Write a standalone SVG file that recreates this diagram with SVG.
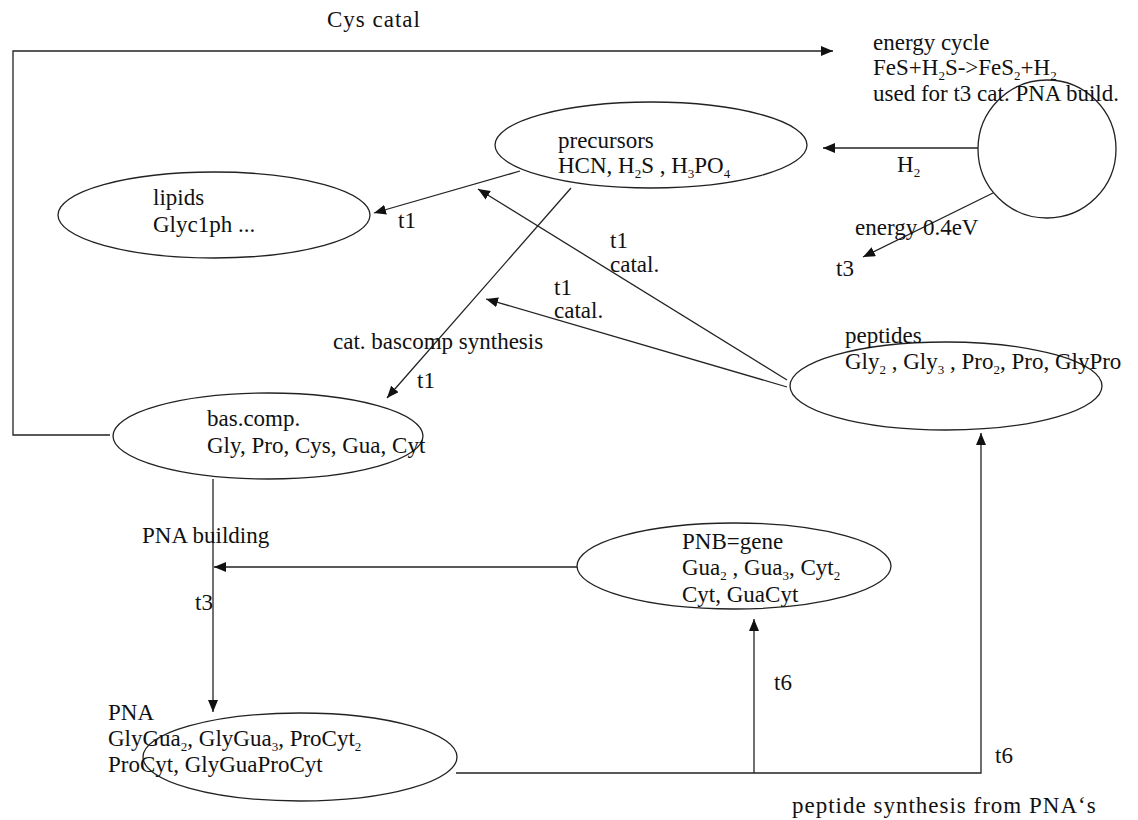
<svg xmlns="http://www.w3.org/2000/svg" width="1138" height="820" viewBox="0 0 1138 820">
<style>
text{font-family:"Liberation Serif","Times New Roman",serif;font-size:23px;fill:#111}
.s{font-size:13px}
.n{fill:none;stroke:#222;stroke-width:1.3}
.c{fill:none;stroke:#222;stroke-width:1.3}
.sp{letter-spacing:1px}
</style>
<defs>
<marker id="a" viewBox="0 0 12 10" refX="12" refY="5" markerWidth="12" markerHeight="10" markerUnits="userSpaceOnUse" orient="auto">
<path d="M0,0L12,5L0,10z" fill="#111"/>
</marker>
</defs>
<rect width="1138" height="820" fill="#fff"/>
<g id="connectors">
<polyline class="c" points="110,435 13,435 13,51 833,51" marker-end="url(#a)"/>
<line class="c" x1="978" y1="148" x2="823" y2="148" marker-end="url(#a)"/>
<line class="c" x1="993" y1="193" x2="863" y2="257" marker-end="url(#a)"/>
<line class="c" x1="520" y1="171" x2="374" y2="213" marker-end="url(#a)"/>
<line class="c" x1="571" y1="188" x2="387" y2="398" marker-end="url(#a)"/>
<line class="c" x1="787" y1="387" x2="486" y2="299" marker-end="url(#a)"/>
<line class="c" x1="787" y1="380" x2="478" y2="189" marker-end="url(#a)"/>
<line class="c" x1="213" y1="479" x2="213" y2="712" marker-end="url(#a)"/>
<line class="c" x1="577" y1="567" x2="214" y2="567" marker-end="url(#a)"/>
<polyline class="c" points="456,773 981,773 981,433" marker-end="url(#a)"/>
<line class="c" x1="754" y1="773" x2="754" y2="619" marker-end="url(#a)"/>
<text x="327" y="27" class="sp">Cys catal</text>
<text x="897" y="172">H<tspan class="s" dy="5">2</tspan></text>
<text x="855" y="235">energy 0.4eV</text>
<text x="836" y="276">t3</text>
<text x="398" y="228">t1</text>
<text x="333" y="349">cat. bascomp synthesis</text>
<text x="417" y="388">t1</text>
<text x="610" y="248">t1</text>
<text x="610" y="272">catal.</text>
<text x="554" y="295">t1</text>
<text x="554" y="318">catal.</text>
<text x="142" y="543">PNA building</text>
<text x="195" y="610">t3</text>
<text x="774" y="690">t6</text>
<text x="995" y="763">t6</text>
<text x="792" y="813" class="sp">peptide synthesis from PNA‘s</text>
</g>
<g id="energy">
<circle class="n" cx="1047" cy="149" r="69"/>
<text x="873" y="50">energy cycle</text>
<text x="873" y="75">FeS+H<tspan class="s" dy="5">2</tspan><tspan dy="-5">S-&gt;FeS</tspan><tspan class="s" dy="5">2</tspan><tspan dy="-5">+H</tspan><tspan class="s" dy="5">2</tspan></text>
<text x="873" y="101">used for t3 cat. PNA build.</text>
</g>
<g id="precursors">
<ellipse class="n" cx="651" cy="145" rx="156" ry="43"/>
<text x="558" y="148">precursors</text>
<text x="558" y="173">HCN, H<tspan class="s" dy="5">2</tspan><tspan dy="-5">S , H</tspan><tspan class="s" dy="5">3</tspan><tspan dy="-5">PO</tspan><tspan class="s" dy="5">4</tspan></text>
</g>
<g id="lipids">
<ellipse class="n" cx="214" cy="215" rx="156" ry="43"/>
<text x="153" y="205">lipids</text>
<text x="153" y="232">Glyc1ph ...</text>
</g>
<g id="peptides">
<ellipse class="n" cx="946" cy="386" rx="156" ry="44"/>
<text x="845" y="343">peptides</text>
<text x="845" y="369">Gly<tspan class="s" dy="5">2</tspan><tspan dy="-5"> , Gly</tspan><tspan class="s" dy="5">3</tspan><tspan dy="-5"> , Pro</tspan><tspan class="s" dy="5">2</tspan><tspan dy="-5">, Pro, GlyPro</tspan></text>
</g>
<g id="bascomp">
<ellipse class="n" cx="268" cy="436" rx="155" ry="43"/>
<text x="207" y="426">bas.comp.</text>
<text x="207" y="453">Gly, Pro, Cys, Gua, Cyt</text>
</g>
<g id="PNB">
<ellipse class="n" cx="734" cy="566" rx="157" ry="43"/>
<text x="682" y="549">PNB=gene</text>
<text x="682" y="575">Gua<tspan class="s" dy="5">2</tspan><tspan dy="-5"> , Gua</tspan><tspan class="s" dy="5">3</tspan><tspan dy="-5">, Cyt</tspan><tspan class="s" dy="5">2</tspan></text>
<text x="682" y="602">Cyt, GuaCyt</text>
</g>
<g id="PNA">
<ellipse class="n" cx="300" cy="757" rx="157" ry="44"/>
<text x="108" y="720">PNA</text>
<text x="108" y="746">GlyGua<tspan class="s" dy="5">2</tspan><tspan dy="-5">, GlyGua</tspan><tspan class="s" dy="5">3</tspan><tspan dy="-5">, ProCyt</tspan><tspan class="s" dy="5">2</tspan></text>
<text x="108" y="772">ProCyt, GlyGuaProCyt</text>
</g>
</svg>
